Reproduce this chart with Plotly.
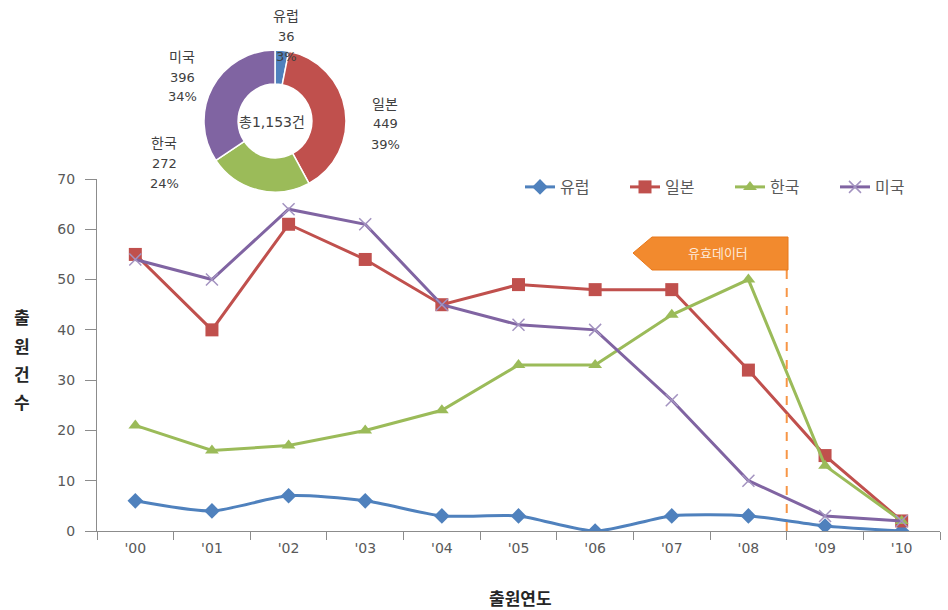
import plotly.graph_objects as go

# Application counts by filing year and region
years = ["'00", "'01", "'02", "'03", "'04", "'05", "'06", "'07", "'08", "'09", "'10"]
europe = [6, 4, 7, 6, 3, 3, 0, 3, 3, 1, 0]
japan = [55, 40, 61, 54, 45, 49, 48, 48, 32, 15, 2]
korea = [21, 16, 17, 20, 24, 33, 33, 43, 50, 13, 2]
usa = [54, 50, 64, 61, 45, 41, 40, 26, 10, 3, 2]

regions = ["유럽", "일본", "한국", "미국"]
colors = ["#4F81BD", "#C0504D", "#9BBB59", "#8064A2"]
totals = [sum(europe), sum(japan), sum(korea), sum(usa)]
grand_total = sum(totals)

KR = "Noto Sans CJK KR"
MIX = "DejaVu Sans, Noto Sans CJK KR"
NUM = "DejaVu Sans"
GREY = "#595959"

W, H = 948, 610
ML, MR, MT, MB = 97, 8, 10, 79
PW, PH = W - ML - MR, H - MT - MB


def px_x(px):
    return (px - ML) / PW


def px_y(py):
    return (H - MB - py) / PH


fig = go.Figure()

series = [
    (regions[0], europe, colors[0], dict(symbol="diamond", size=12), "spline"),
    (regions[1], japan, colors[1], dict(symbol="square", size=13), "linear"),
    (regions[2], korea, colors[2], dict(symbol="triangle-up", size=12), "linear"),
    (regions[3], usa, colors[3], dict(symbol="x-thin", size=12,
                                      line=dict(width=1.5, color="#A393C0")), "linear"),
]
for name, vals, col, mk, shape in series:
    fig.add_trace(go.Scatter(
        x=years, y=vals, name=name, mode="lines+markers",
        line=dict(color=col, width=3, shape=shape, smoothing=0.7),
        marker=dict(color=col, **mk),
        xaxis="x", yaxis="y",
    ))

# Regional share donut
fig.add_trace(go.Pie(
    labels=regions, values=totals, hole=0.52, sort=False, direction="clockwise",
    rotation=0, marker=dict(colors=colors, line=dict(color="white", width=1.5)),
    textinfo="none", showlegend=False, hoverinfo="label+value+percent",
    domain=dict(x=[px_x(204), px_x(346)], y=[px_y(192), px_y(50)]),
))

fig.update_layout(
    width=W, height=H,
    margin=dict(l=ML, r=MR, t=MT, b=MB, autoexpand=False),
    paper_bgcolor="white", plot_bgcolor="white",
    font=dict(family=KR, color=GREY),
    xaxis=dict(
        type="category", tickson="boundaries", ticks="outside", ticklen=8,
        tickcolor="#8C8C8C", showline=True, linecolor="#8C8C8C", linewidth=1,
        showgrid=False, range=[-0.5, 10.5], ticklabelstandoff=4,
        tickfont=dict(family=NUM, size=14, color=GREY),
    ),
    yaxis=dict(
        domain=[0, px_y(179)], range=[0, 70], dtick=10, ticks="outside", ticklen=11,
        tickcolor="#8C8C8C", showline=True, linecolor="#8C8C8C", linewidth=1,
        showgrid=False, zeroline=False, ticklabelstandoff=7,
        tickfont=dict(family=NUM, size=14, color=GREY),
    ),
    legend=dict(
        orientation="h", x=px_x(520), y=px_y(187), xanchor="left", yanchor="middle",
        font=dict(family=KR, size=16, color=GREY), bgcolor="rgba(0,0,0,0)",
        entrywidth=60, entrywidthmode="pixels", tracegroupgap=0,
    ),
    showlegend=True,
)

# Valid-data cutoff marker
fig.add_shape(type="line", xref="x", yref="y", x0=8.5, x1=8.5, y0=0, y1=57.5,
              line=dict(color="#F79646", width=2, dash="dash"))
tip, body_l, right = px_x(633), px_x(652), px_x(788)
top, mid, bot = px_y(237), px_y(253), px_y(270)
fig.add_shape(type="path", xref="paper", yref="paper",
              path=f"M {tip},{mid} L {body_l},{top} L {right},{top} L {right},{bot} L {body_l},{bot} Z",
              fillcolor="#F28A2E", line=dict(color="#E8781A", width=1))
fig.add_annotation(xref="paper", yref="paper", x=px_x(718), y=px_y(253), text="유효데이터",
                   xanchor="center", yanchor="middle",
                   showarrow=False, font=dict(family=KR, size=13, color="#FDE9D9"))

# Axis titles
fig.add_annotation(xref="paper", yref="paper", x=px_x(520), y=px_y(597),
                   xanchor="center", yanchor="middle",
                   text="<b>출원연도</b>", showarrow=False,
                   font=dict(family=KR, size=17, color="#262626"))
for ch, py in zip("출원건수", [317, 345, 373, 401]):
    fig.add_annotation(xref="paper", yref="paper", x=px_x(22), y=px_y(py),
                       xanchor="center", yanchor="middle",
                       text=f"<b>{ch}</b>", showarrow=False,
                       font=dict(family=KR, size=17, color="#262626"))

# Donut labels: total in the hole, then name / count / share beside each slice
fig.add_annotation(xref="paper", yref="paper", x=px_x(272), y=px_y(122),
                   xanchor="center", yanchor="middle",
                   text=f"총{grand_total:,}건", showarrow=False,
                   font=dict(family=MIX, size=14, color="#404040"))
label_pos = [(286, 16), (385, 104), (164, 143), (182, 57)]
line_gap = 20
for name, val, (px, py) in zip(regions, totals, label_pos):
    pct = round(100 * val / grand_total)
    for i, txt in enumerate([name, str(val), f"{pct}%"]):
        fig.add_annotation(xref="paper", yref="paper", x=px_x(px), y=px_y(py + i * line_gap),
                           xanchor="center", yanchor="middle",
                           text=txt, showarrow=False,
                           font=dict(family=MIX, size=14 if i == 0 else 13, color="#404040"))

fig.write_html("out.html")
